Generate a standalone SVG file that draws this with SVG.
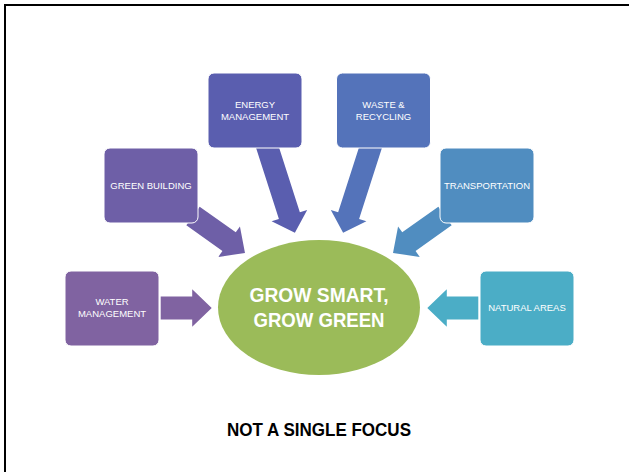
<svg xmlns="http://www.w3.org/2000/svg" width="629" height="472" viewBox="0 0 629 472">
<defs>
<style>
.box{stroke:#ffffff;stroke-width:1}
.lbl{font-family:"Liberation Sans",Arial,sans-serif;font-size:9.5px;fill:#ffffff;text-anchor:middle}
.main{font-family:"Liberation Sans",Arial,sans-serif;font-size:19.5px;font-weight:bold;fill:#ffffff;text-anchor:middle}
.title{font-family:"Liberation Sans",Arial,sans-serif;font-size:18px;font-weight:bold;fill:#000000;text-anchor:middle}
</style>
</defs>
<rect x="0" y="0" width="629" height="472" fill="#ffffff"/>
<path d="M5,472 V5 H629" fill="none" stroke="#000000" stroke-width="2"/>
<g id="connectors">
<polygon transform="translate(160.7,308)" points="0,-11.5 31.5,-11.5 31.5,-18.7 51,0 31.5,18.7 31.5,11.5 0,11.5" fill="#8063A1"/>
<polygon transform="translate(478.3,308) rotate(180)" points="0,-11.5 31.5,-11.5 31.5,-18.7 51,0 31.5,18.7 31.5,11.5 0,11.5" fill="#4BADC6"/>
<polygon transform="translate(193,216) rotate(35.43)" points="0,-11.5 44.3,-11.5 44.3,-18.7 63.8,0 44.3,18.7 44.3,11.5 0,11.5" fill="#6E5FA7"/>
<polygon transform="translate(445,216) rotate(144.57)" points="0,-11.5 44.3,-11.5 44.3,-18.7 63.8,0 44.3,18.7 44.3,11.5 0,11.5" fill="#508DC0"/>
<polygon transform="translate(265.2,140.4) rotate(72.18)" points="0,-11 79,-11 79,-18.7 97,0 79,18.7 79,11 0,11" fill="#5A5EAF"/>
<polygon transform="translate(372.8,140.4) rotate(107.82)" points="0,-11 79,-11 79,-18.7 97,0 79,18.7 79,11 0,11" fill="#5473BA"/>
</g>
<g id="water">
<rect class="box" x="65" y="271" width="94" height="75" rx="6" fill="#8063A1"/>
<text class="lbl" x="112" y="305">WATER</text>
<text class="lbl" x="112" y="317.3">MANAGEMENT</text>
</g>
<g id="green-building">
<rect class="box" x="104" y="148" width="94" height="75" rx="6" fill="#6E5FA7"/>
<text class="lbl" x="151" y="189">GREEN BUILDING</text>
</g>
<g id="energy">
<rect class="box" x="208" y="73" width="94" height="75" rx="6" fill="#5A5EAF"/>
<text class="lbl" x="255" y="108">ENERGY</text>
<text class="lbl" x="255" y="120">MANAGEMENT</text>
</g>
<g id="waste">
<rect class="box" x="336.5" y="73" width="94" height="75" rx="6" fill="#5473BA"/>
<text class="lbl" x="383.5" y="108">WASTE &amp;</text>
<text class="lbl" x="383.5" y="120">RECYCLING</text>
</g>
<g id="transportation">
<rect class="box" x="440" y="148" width="94" height="75" rx="6" fill="#508DC0"/>
<text class="lbl" x="487" y="189">TRANSPORTATION</text>
</g>
<g id="natural">
<rect class="box" x="480" y="271" width="94" height="75" rx="6" fill="#4BADC6"/>
<text class="lbl" x="527" y="311">NATURAL AREAS</text>
</g>
<g id="center">
<ellipse cx="319" cy="307.5" rx="101" ry="67.5" fill="#9BBB59"/>
<text class="main" x="319" y="302" textLength="139" lengthAdjust="spacingAndGlyphs">GROW SMART,</text>
<text class="main" x="319" y="327" textLength="131" lengthAdjust="spacingAndGlyphs">GROW GREEN</text>
</g>
<g id="caption">
<text class="title" x="319" y="436" textLength="184" lengthAdjust="spacingAndGlyphs">NOT A SINGLE FOCUS</text>
</g>
</svg>
